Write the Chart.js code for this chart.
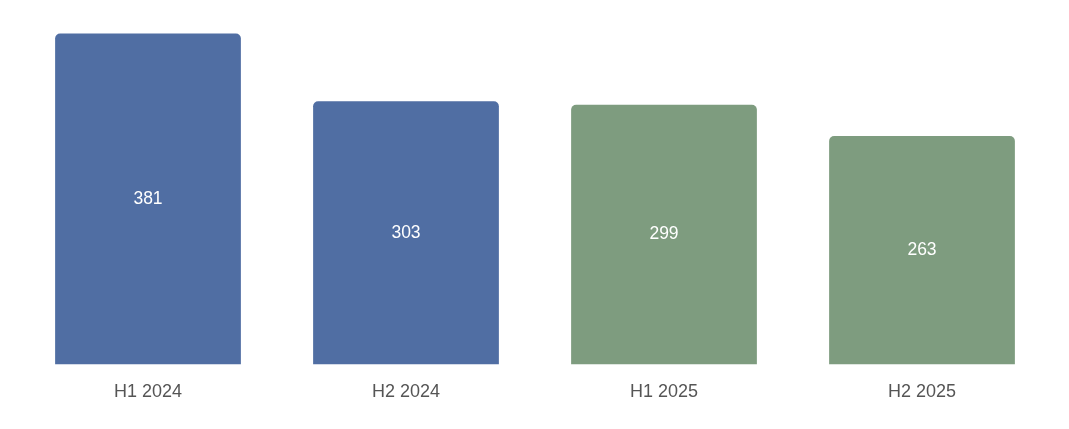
<!DOCTYPE html>
<html>
<head>
<meta charset="utf-8">
<script src="https://cdn.jsdelivr.net/npm/chart.js@4"></script>
<style>
html,body{margin:0;padding:0;background:#fff;}
canvas{display:block;}
</style>
</head>
<body>
<canvas id="c" width="1069" height="429"></canvas>
<script>
const categories = ["H1 2024", "H2 2024", "H1 2025", "H2 2025"];
const values = [381, 303, 299, 263];
const barColors = ["#506ea3", "#506ea3", "#7e9c7f", "#7e9c7f"];

const valueLabels = {
  id: 'valueLabels',
  afterDatasetsDraw(chart) {
    const ctx = chart.ctx;
    const meta = chart.getDatasetMeta(0);
    ctx.save();
    ctx.fillStyle = '#ffffff';
    ctx.font = '17.5px "Liberation Sans", Arial, sans-serif';
    ctx.textAlign = 'center';
    ctx.textBaseline = 'middle';
    meta.data.forEach((bar, i) => {
      const y = (bar.y + bar.base) / 2;
      ctx.fillText(String(values[i]), bar.x, y);
    });
    ctx.restore();
  }
};

new Chart(document.getElementById('c'), {
  type: 'bar',
  data: {
    labels: categories,
    datasets: [{
      data: values,
      backgroundColor: barColors,
      borderRadius: {topLeft: 5, topRight: 5, bottomLeft: 0, bottomRight: 0},
      borderSkipped: false,
      barPercentage: 0.8,
      categoryPercentage: 0.9
    }]
  },
  options: {
    responsive: false,
    animation: false,
    devicePixelRatio: 1,
    layout: { padding: { left: 19, right: 18, top: 17, bottom: 9 } },
    plugins: { legend: { display: false }, tooltip: { enabled: false } },
    scales: {
      x: {
        grid: { display: false, drawTicks: false },
        border: { display: false },
        ticks: { color: '#555555', font: { size: 18, family: '"Liberation Sans", Arial, sans-serif' }, padding: 17 }
      },
      y: {
        display: false,
        min: 0,
        max: 400
      }
    }
  },
  plugins: [valueLabels]
});
</script>
</body>
</html>
